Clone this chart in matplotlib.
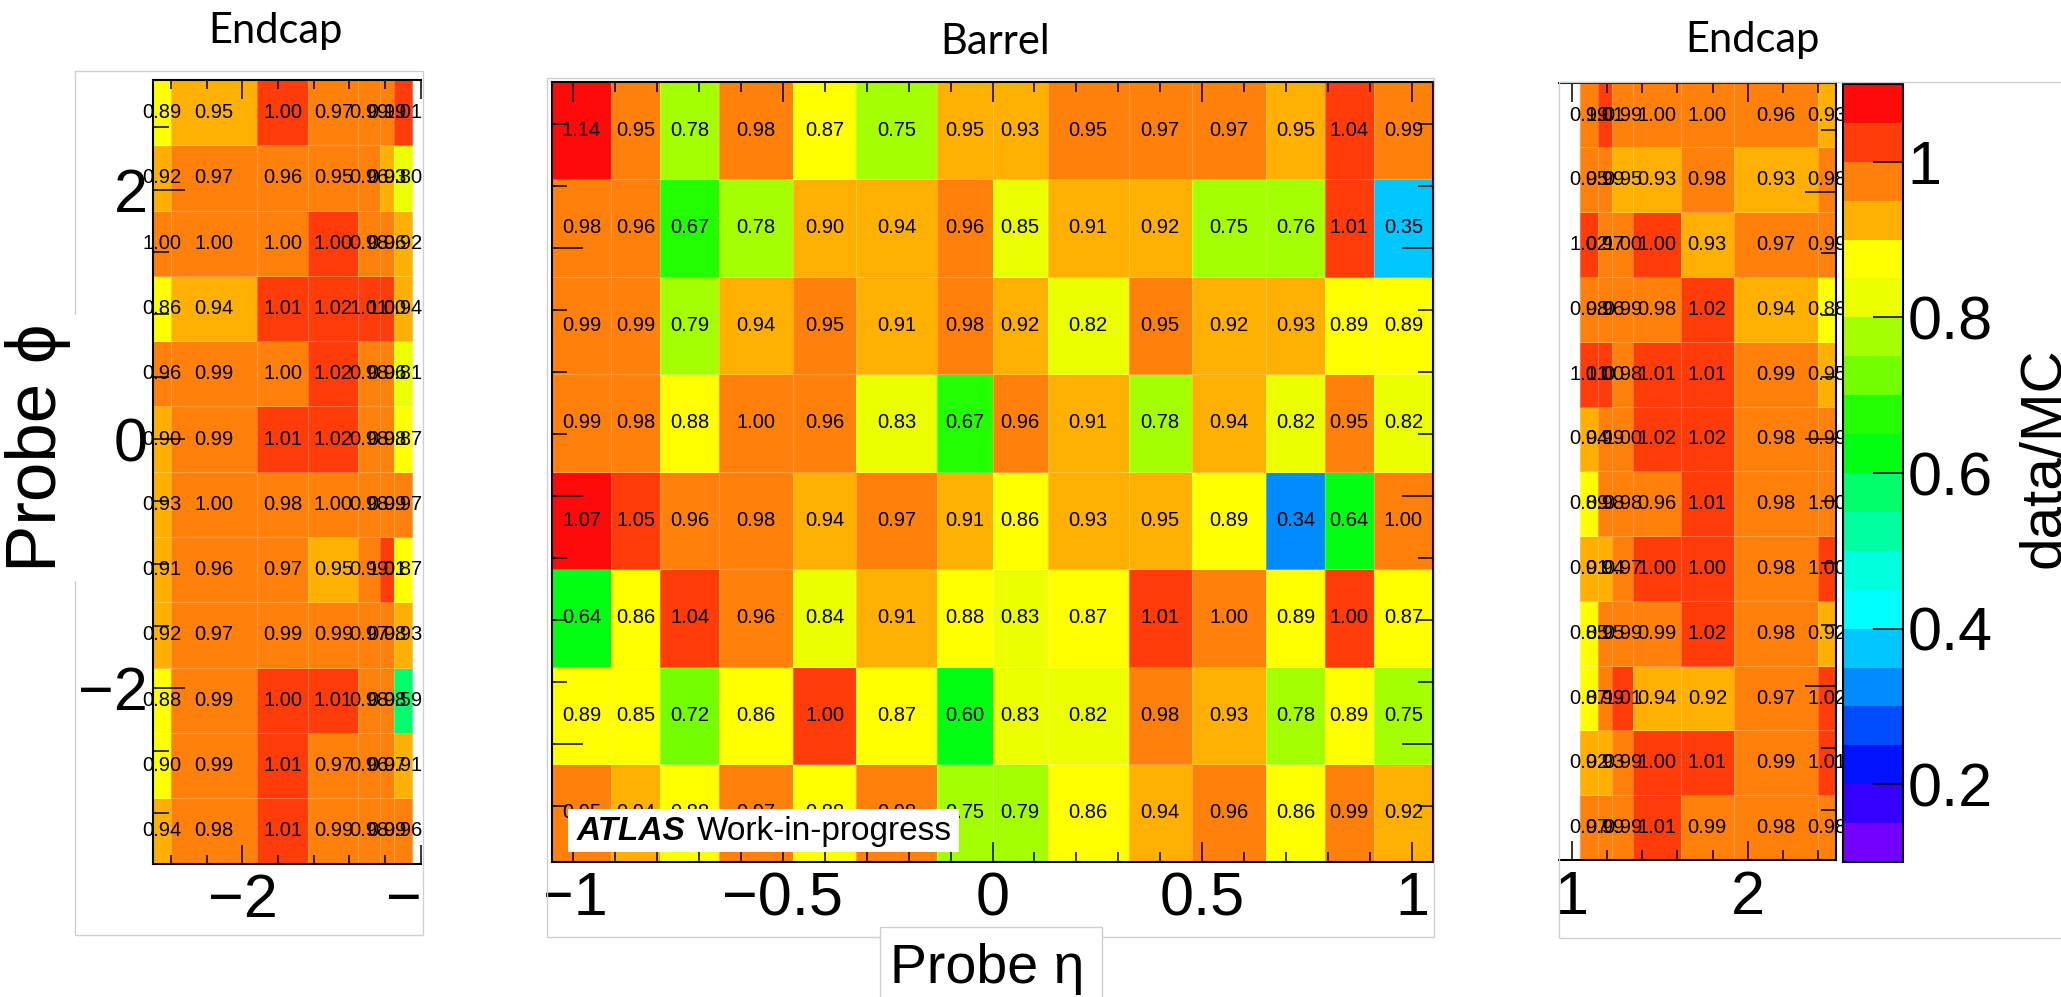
import numpy as np
import matplotlib
matplotlib.use("Agg")
import matplotlib.pyplot as plt
from matplotlib.colors import ListedColormap, BoundaryNorm
from matplotlib.ticker import MultipleLocator, FuncFormatter
from matplotlib.patches import Rectangle
from matplotlib.cm import ScalarMappable

plt.rcParams['font.family'] = ['Liberation Sans', 'DejaVu Sans']

# eta bin edges of the three regions
eta_endcap_neg = [-2.5, -2.4, -1.92, -1.63, -1.35, -1.23, -1.15, -1.05]
eta_barrel = [-1.05, -0.908, -0.791, -0.652, -0.475, -0.324, -0.132, 0.0,
              0.132, 0.324, 0.475, 0.652, 0.791, 0.908, 1.05]
eta_endcap_pos = [1.05, 1.15, 1.23, 1.35, 1.62, 1.92, 2.4, 2.5]

# phi ranges (endcap: 12 sectors, barrel: 8 sectors)
phi_endcap = (-np.pi - np.pi / 12, np.pi - np.pi / 12)
phi_barrel = (-np.pi + np.pi / 16, np.pi + np.pi / 16)

# data/MC, rows listed from top (high phi) to bottom
endcap_neg = [
    [0.89, 0.949, 1.00, 0.97, 0.99, 0.99, 1.01],
    [0.92, 0.97, 0.96, 0.95, 0.96, 0.93, 0.80],
    [0.998, 0.998, 0.998, 1.00, 0.98, 0.96, 0.92],
    [0.86, 0.94, 1.01, 1.02, 1.01, 1.00, 0.94],
    [0.96, 0.99, 0.998, 1.02, 0.98, 0.96, 0.81],
    [0.90, 0.99, 1.01, 1.02, 0.98, 0.98, 0.87],
    [0.93, 0.998, 0.98, 0.998, 0.98, 0.99, 0.97],
    [0.91, 0.96, 0.97, 0.949, 0.99, 1.01, 0.87],
    [0.92, 0.97, 0.99, 0.99, 0.97, 0.98, 0.93],
    [0.88, 0.99, 1.00, 1.01, 0.98, 0.98, 0.59],
    [0.899, 0.99, 1.01, 0.97, 0.96, 0.97, 0.91],
    [0.94, 0.98, 1.01, 0.99, 0.98, 0.99, 0.96],
]

barrel = [
    [1.14, 0.95, 0.78, 0.98, 0.87, 0.75, 0.949, 0.93, 0.95, 0.97, 0.97, 0.949, 1.04, 0.99],
    [0.98, 0.96, 0.67, 0.78, 0.90, 0.94, 0.96, 0.849, 0.91, 0.92, 0.75, 0.76, 1.01, 0.35],
    [0.99, 0.99, 0.79, 0.94, 0.95, 0.91, 0.98, 0.92, 0.82, 0.95, 0.92, 0.93, 0.89, 0.89],
    [0.99, 0.98, 0.88, 0.998, 0.96, 0.83, 0.67, 0.96, 0.91, 0.78, 0.94, 0.82, 0.95, 0.82],
    [1.07, 1.049, 0.96, 0.98, 0.94, 0.97, 0.91, 0.86, 0.93, 0.949, 0.89, 0.34, 0.64, 0.998],
    [0.64, 0.86, 1.04, 0.96, 0.84, 0.91, 0.88, 0.83, 0.87, 1.01, 0.998, 0.89, 1.00, 0.87],
    [0.89, 0.85, 0.72, 0.86, 1.00, 0.87, 0.60, 0.83, 0.82, 0.98, 0.93, 0.78, 0.89, 0.75],
    [0.95, 0.94, 0.88, 0.97, 0.88, 0.98, 0.75, 0.79, 0.86, 0.94, 0.96, 0.86, 0.99, 0.92],
]

endcap_pos = [
    [0.99, 1.01, 0.99, 0.998, 0.998, 0.96, 0.93],
    [0.95, 0.99, 0.949, 0.93, 0.98, 0.93, 0.98],
    [1.02, 0.97, 0.998, 1.00, 0.93, 0.97, 0.99],
    [0.98, 0.96, 0.99, 0.98, 1.02, 0.94, 0.88],
    [1.01, 1.00, 0.98, 1.01, 1.01, 0.99, 0.949],
    [0.94, 0.99, 0.998, 1.02, 1.02, 0.98, 0.99],
    [0.89, 0.98, 0.98, 0.96, 1.01, 0.98, 0.998],
    [0.91, 0.94, 0.97, 1.00, 1.00, 0.98, 1.00],
    [0.85, 0.95, 0.99, 0.99, 1.02, 0.98, 0.92],
    [0.87, 0.99, 1.01, 0.94, 0.92, 0.97, 1.02],
    [0.92, 0.93, 0.99, 1.00, 1.01, 0.99, 1.01],
    [0.97, 0.99, 0.99, 1.01, 0.99, 0.98, 0.98],
]

# 20-step palette from 0.1 to 1.1
palette = ['#7400ff', '#3400ff', '#0012ff', '#004cff', '#008cff', '#00c6ff',
           '#00ffff', '#00ffdc', '#00ffa0', '#00ff6a', '#00ff12', '#22ff00',
           '#74ff00', '#a4ff00', '#ecff00', '#ffff00', '#ffb000', '#ff800a',
           '#ff3c0a', '#ff0a0a']
levels = np.round(np.linspace(0.1, 1.1, 21), 2)
cbar_ticks = [0.2, 0.4, 0.6, 0.8, 1.0]

cmap = ListedColormap(palette)
norm = BoundaryNorm(levels, cmap.N, clip=True)

W, H = 2061, 997
fig = plt.figure(figsize=(W / 100, H / 100), dpi=100)


def px_axes(x0, y0, x1, y1):
    return fig.add_axes([x0 / W, 1 - y1 / H, (x1 - x0) / W, (y1 - y0) / H])


def fmt(v, pos):
    return "{:g}".format(round(v, 3)).replace("-", "\u2212")


def draw_cells(ax, xedges, ylim, vals):
    v = np.array(vals)[::-1]
    xedges = np.array(xedges)
    yedges = np.linspace(ylim[0], ylim[1], v.shape[0] + 1)
    ax.pcolormesh(xedges, yedges, v, cmap=cmap, norm=norm,
                  edgecolors=(1, 1, 1, 0.25), linewidth=0.6)
    xc = 0.5 * (xedges[1:] + xedges[:-1])
    yc = 0.5 * (yedges[1:] + yedges[:-1])
    for i, y in enumerate(yc):
        for j, x in enumerate(xc):
            ax.text(x, y, "{:.2f}".format(v[i, j]), ha='center', va='center',
                    fontsize=14.5, color='black', clip_on=False)


def style(ax, xmajor, xminor, xlen, ylen, left=True, right=True):
    ax.xaxis.set_major_locator(MultipleLocator(xmajor))
    ax.xaxis.set_minor_locator(MultipleLocator(xminor))
    ax.yaxis.set_major_locator(MultipleLocator(2))
    ax.yaxis.set_minor_locator(MultipleLocator(0.5))
    ax.xaxis.set_major_formatter(FuncFormatter(fmt))
    ax.yaxis.set_major_formatter(FuncFormatter(fmt))
    ax.tick_params(axis='x', which='major', direction='in', top=True, bottom=True,
                   length=xlen, width=1.1, labelsize=44, pad=7)
    ax.tick_params(axis='x', which='minor', direction='in', top=True, bottom=True,
                   length=xlen / 2, width=1.1)
    ax.tick_params(axis='y', which='major', direction='in', left=left, right=right,
                   length=ylen, width=1.1, labelsize=44, pad=4,
                   labelleft=False, labelright=False)
    ax.tick_params(axis='y', which='minor', direction='in', left=left, right=right,
                   length=ylen / 2, width=1.1)
    for s in ax.spines.values():
        s.set_linewidth(1.5)


# negative endcap
ax1 = px_axes(153.3, 80, 420.8, 863.5)
draw_cells(ax1, eta_endcap_neg, phi_endcap, endcap_neg)
ax1.set_xlim(-2.5, -1.0)
ax1.set_ylim(*phi_endcap)
style(ax1, 1.0, 0.2, 13.5, 23, left=True, right=False)
ax1.tick_params(axis='y', labelleft=True)
ax1.spines['right'].set_visible(False)

# barrel
ax2 = px_axes(551.7, 81.7, 1433.3, 861.7)
draw_cells(ax2, eta_barrel, phi_barrel, barrel)
ax2.set_xlim(-1.05, 1.05)
ax2.set_ylim(*phi_barrel)
style(ax2, 0.5, 0.1, 14.5, 22)

# positive endcap
ax3 = px_axes(1559.3, 82.7, 1836, 860)
draw_cells(ax3, eta_endcap_pos, phi_endcap, endcap_pos)
ax3.set_xlim(0.93, 2.5)
ax3.set_ylim(*phi_endcap)
style(ax3, 1.0, 0.2, 14, 22, left=False, right=True)
ax3.spines['left'].set_visible(False)

# colour scale
cax = px_axes(1842.7, 84, 1903.3, 862)
cb = fig.colorbar(ScalarMappable(norm=norm, cmap=cmap), cax=cax)
cb.set_ticks(cbar_ticks)
cb.ax.yaxis.set_major_formatter(FuncFormatter(fmt))
cb.minorticks_off()
cb.outline.set_linewidth(1.5)
cax.tick_params(direction='in', length=21.6, width=1.1, labelsize=44, pad=3)

tf = fig.transFigure


def fx(x):
    return x / W


def fy(y):
    return 1 - y / H


# white mask where the left screenshot was cropped
fig.patches.append(Rectangle((fx(424), fy(940)), (546 - 424) / W, 880 / H,
                             transform=tf, facecolor='white', edgecolor='none', zorder=2))

# light grey screenshot frames
for (x0, y0, x1, y1) in [(75, 71, 423, 935), (547, 78, 1434, 937), (1559, 82, 2070, 938)]:
    fig.patches.append(Rectangle((fx(x0), fy(y1)), (x1 - x0) / W, (y1 - y0) / H,
                                 transform=tf, fill=False, edgecolor='#cfcfcf',
                                 linewidth=1.0, zorder=3))

# ATLAS label
fig.patches.append(Rectangle((fx(568), fy(852)), (959 - 568) / W, 43 / H,
                             transform=tf, facecolor='white', edgecolor='none', zorder=4))
fig.text(fx(577), fy(840), "ATLAS", fontsize=24, fontweight='bold', fontstyle='italic',
         ha='left', va='baseline', zorder=5)
fig.text(fx(697), fy(840), "Work-in-progress", fontsize=24, ha='left', va='baseline', zorder=5)

# titles
title_font = ['Lato', 'DejaVu Sans']
fig.text(fx(275), fy(43), "Endcap", fontsize=30, family=title_font, ha='center', va='baseline')
fig.text(fx(995), fy(54), "Barrel", fontsize=30, family=title_font, ha='center', va='baseline')
fig.text(fx(1752), fy(52), "Endcap", fontsize=30, family=title_font, ha='center', va='baseline')

# axis labels
fig.text(fx(38), fy(448), "Probe \u03d5", fontsize=51, rotation=90, ha='center', va='center',
         zorder=6, bbox=dict(facecolor='white', edgecolor='none', pad=6))
fig.patches.append(Rectangle((fx(880), fy(1000)), (1102 - 880) / W, 73 / H,
                             transform=tf, facecolor='white', edgecolor='#cfcfcf',
                             linewidth=1.0, zorder=4))
fig.text(fx(890), fy(983), "Probe \u03b7", fontsize=40, ha='left', va='baseline', zorder=6)
fig.text(fx(2017), fy(458), "data/MC", fontsize=42, rotation=90, ha='left', va='center')

fig.savefig("out.png", dpi=100)
